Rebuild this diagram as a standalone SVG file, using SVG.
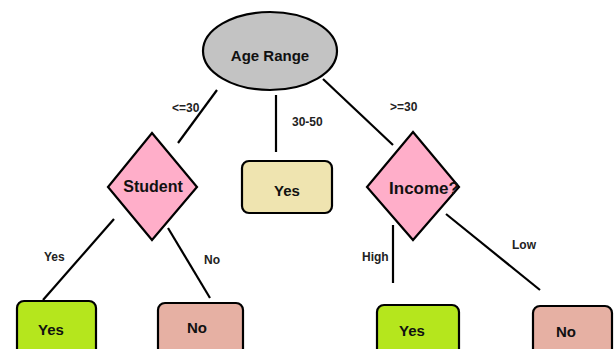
<svg xmlns="http://www.w3.org/2000/svg" width="616" height="349" viewBox="0 0 616 349">
<style>
.sh{stroke:#000;stroke-width:2.2}
.ln{stroke:#000;stroke-width:2.2;fill:none}
.nt{font-family:"Liberation Sans",Arial,sans-serif;font-weight:bold;font-size:15px;fill:#111;text-anchor:middle;dominant-baseline:central}
.lb{font-family:"Liberation Sans",Arial,sans-serif;font-weight:bold;font-size:12px;fill:#222;dominant-baseline:central}
</style>
<rect width="616" height="349" fill="#fff"/>
<g id="connectors">
<line class="ln" x1="217" y1="90" x2="178" y2="143"/>
<line class="ln" x1="276" y1="95" x2="276" y2="152"/>
<line class="ln" x1="323" y1="79" x2="393" y2="145"/>
<line class="ln" x1="114" y1="219" x2="43" y2="300"/>
<line class="ln" x1="168" y1="228" x2="210" y2="298"/>
<line class="ln" x1="393" y1="225" x2="393" y2="283"/>
<line class="ln" x1="446" y1="214" x2="540" y2="290"/>
<text class="lb" x="172" y="108">&lt;=30</text>
<text class="lb" x="292" y="122">30-50</text>
<text class="lb" x="390" y="107">&gt;=30</text>
<text class="lb" x="44" y="257">Yes</text>
<text class="lb" x="204" y="260">No</text>
<text class="lb" x="362" y="257">High</text>
<text class="lb" x="512" y="245">Low</text>
</g>
<g id="age-range">
<ellipse class="sh" cx="270" cy="51" rx="67" ry="39" fill="#c3c3c3"/>
<text class="nt" x="270" y="55">Age Range</text>
</g>
<g id="student">
<polygon class="sh" points="152,133 197,187 152,240 108,187" fill="#ffaec9"/>
<text class="nt" x="153" y="186" style="font-size:16px">Student</text>
</g>
<g id="yes-mid">
<rect class="sh" x="242" y="161" width="90" height="52" rx="7" fill="#efe4b0"/>
<text class="nt" x="287" y="190">Yes</text>
</g>
<g id="income">
<polygon class="sh" points="413,132 459,187 413,240 367,187" fill="#ffaec9"/>
<text class="nt" x="424" y="188" style="font-size:17px">Income?</text>
</g>
<g id="yes-left">
<rect class="sh" x="17" y="301" width="79" height="60" rx="7" fill="#b5e61d"/>
<text class="nt" x="51" y="329">Yes</text>
</g>
<g id="no-left">
<rect class="sh" x="158" y="303" width="85" height="60" rx="7" fill="#e6b0a3"/>
<text class="nt" x="197" y="327">No</text>
</g>
<g id="yes-right">
<rect class="sh" x="377" y="305" width="82" height="60" rx="7" fill="#b5e61d"/>
<text class="nt" x="412" y="330">Yes</text>
</g>
<g id="no-right">
<rect class="sh" x="533" y="306" width="79" height="60" rx="7" fill="#e6b0a3"/>
<text class="nt" x="566" y="331">No</text>
</g>
</svg>
